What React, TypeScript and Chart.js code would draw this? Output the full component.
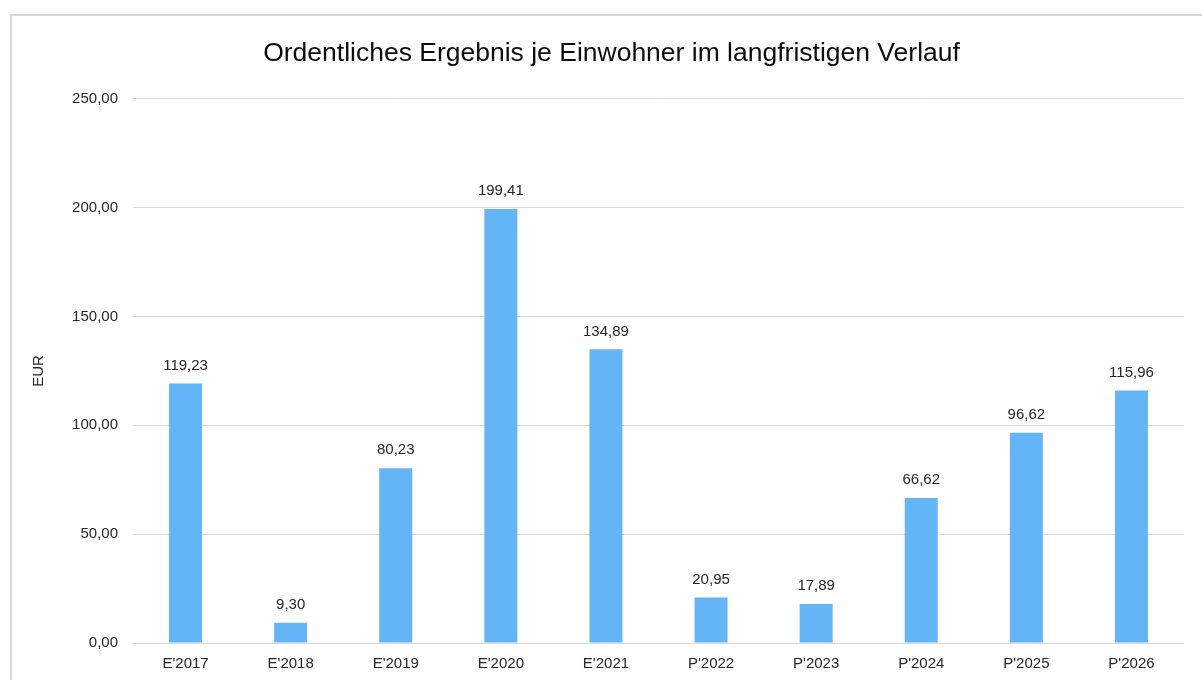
import React, { useEffect, useRef } from "react";
import { Chart, registerables } from "chart.js";

Chart.register(...registerables);

const categories = ["E'2017", "E'2018", "E'2019", "E'2020", "E'2021", "P'2022", "P'2023", "P'2024", "P'2025", "P'2026"];
const values = [119.23, 9.3, 80.23, 199.41, 134.89, 20.95, 17.89, 66.62, 96.62, 115.96];
const titleText = "Ordentliches Ergebnis je Einwohner im langfristigen Verlauf";
const yAxisTitle = "EUR";

const FONT = "'Liberation Sans', Arial, sans-serif";
const fmt = (v: number) => v.toFixed(2).replace(".", ",");

const valueLabels = {
  id: "valueLabels",
  afterDatasetsDraw(chart: any) {
    const ctx = chart.ctx;
    const meta = chart.getDatasetMeta(0);
    ctx.save();
    ctx.font = `15px ${FONT}`;
    ctx.fillStyle = "#262626";
    ctx.textAlign = "center";
    ctx.textBaseline = "middle";
    meta.data.forEach((bar: any, i: number) => {
      ctx.fillText(fmt(values[i]), bar.x, bar.y - 18);
    });
    ctx.restore();
  },
};

export default function App() {
  const ref = useRef<HTMLCanvasElement>(null);
  useEffect(() => {
    if (!ref.current) return;
    const chart = new Chart(ref.current, {
      type: "bar",
      data: {
        labels: categories,
        datasets: [
          {
            data: values,
            backgroundColor: "#64b5f6",
            categoryPercentage: 1,
            barPercentage: 0.314,
          },
        ],
      },
      options: {
        animation: false,
        responsive: false,
        layout: { padding: { left: 27, right: 18, top: 0, bottom: 0 } },
        plugins: {
          legend: { display: false },
          tooltip: { enabled: false },
          title: {
            display: true,
            text: titleText,
            color: "#0d0d0d",
            font: { family: FONT, size: 26.5, weight: "normal" },
            padding: { top: 22, bottom: 29 },
          },
        },
        scales: {
          x: {
            grid: { display: false, drawTicks: false },
            border: { display: false },
            ticks: { color: "#262626", font: { family: FONT, size: 15 }, padding: 12 },
            afterFit: (s: any) => { s.height = 37; },
          },
          y: {
            min: 0,
            max: 250,
            ticks: {
              stepSize: 50,
              color: "#262626",
              font: { family: FONT, size: 15 },
              padding: 15,
              callback: (v: any) => fmt(Number(v)),
            },
            grid: { color: "#d9d9d9", lineWidth: 1, drawTicks: false },
            border: { display: false },
            title: {
              display: true,
              text: yAxisTitle,
              color: "#262626",
              font: { family: FONT, size: 15 },
              padding: { top: -9, bottom: 0 },
            },
            afterFit: (s: any) => { s.width = 94; },
          },
        },
      },
      plugins: [valueLabels],
    });
    return () => chart.destroy();
  }, []);
  return (
    <div
      style={{
        position: "absolute",
        left: 10,
        top: 14,
        width: 1200,
        height: 680,
        borderTop: "2px solid #d9d9d9",
        borderLeft: "2px solid #d9d9d9",
        background: "#fff",
      }}
    >
      <canvas ref={ref} width={1190} height={664} style={{ display: "block" }} />
    </div>
  );
}
